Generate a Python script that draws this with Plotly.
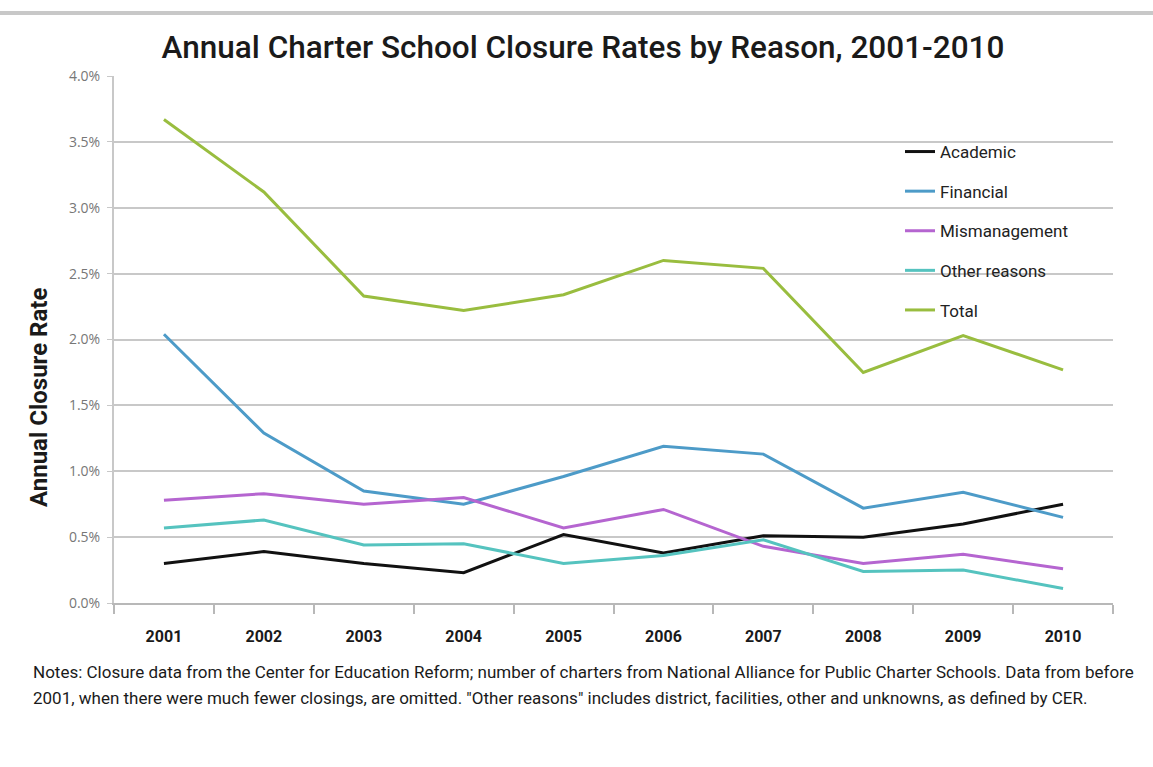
import plotly.graph_objects as go

years = ["2001", "2002", "2003", "2004", "2005", "2006", "2007", "2008", "2009", "2010"]
academic = [0.30, 0.39, 0.30, 0.23, 0.52, 0.38, 0.51, 0.50, 0.60, 0.75]
financial = [2.04, 1.29, 0.85, 0.75, 0.96, 1.19, 1.13, 0.72, 0.84, 0.65]
mismanagement = [0.78, 0.83, 0.75, 0.80, 0.57, 0.71, 0.43, 0.30, 0.37, 0.26]
other_reasons = [0.57, 0.63, 0.44, 0.45, 0.30, 0.36, 0.48, 0.24, 0.25, 0.11]
total = [3.67, 3.12, 2.33, 2.22, 2.34, 2.60, 2.54, 1.75, 2.03, 1.77]

series = [
    ("Academic", academic, "#111111"),
    ("Financial", financial, "#4d9bc8"),
    ("Mismanagement", mismanagement, "#b565d0"),
    ("Other reasons", other_reasons, "#55c3bf"),
    ("Total", total, "#99bd3f"),
]
y_ticks = [0.0, 0.5, 1.0, 1.5, 2.0, 2.5, 3.0, 3.5, 4.0]

FONT = "Roboto, sans-serif"

L, R, T, B = 114, 40, 76, 164
PW, PH = 1153 - L - R, 767 - T - B


def px_x(x):
    return (x - L) / PW


def px_y(y):
    return (767 - B - y) / PH


fig = go.Figure()
for name, vals, color in series:
    fig.add_trace(go.Scatter(
        x=years, y=vals, name=name, mode="lines",
        line=dict(color=color, width=3),
        legendgroup=name,
    ))

fig.update_layout(
    width=1153, height=767,
    margin=dict(l=L, r=R, t=T, b=B),
    paper_bgcolor="white", plot_bgcolor="white",
    showlegend=True,
    legend=dict(
        x=px_x(900), y=px_y(134), xanchor="left", yanchor="top",
        font=dict(family=FONT, size=17, color="#222222"),
        tracegroupgap=14.5, bgcolor="rgba(0,0,0,0)",
    ),
    title=dict(
        text="Annual Charter School Closure Rates by Reason, 2001-2010",
        x=583 / 1153, xanchor="center", y=1 - 47 / 767, yanchor="middle",
        font=dict(family=FONT, size=31.5, color="#1a1a1a", weight=500),
    ),
    xaxis=dict(
        type="category", range=[-0.5, 9.5], showgrid=False, showline=True,
        linecolor="#b8b8b8", linewidth=2,
        ticks="outside", tickson="boundaries", ticklen=9, tickcolor="#b8b8b8", tickwidth=1.5,
        tickfont=dict(family=FONT, size=16, color="#1a1a1a", weight="bold"),
        ticklabelstandoff=18,
    ),
    yaxis=dict(
        range=[0, 4.0], tickvals=y_ticks, ticktext=[f"{v:.1f}%" for v in y_ticks],
        showgrid=True, gridcolor="#c8c8c8", gridwidth=2,
        showline=True, linecolor="#c8c8c8", linewidth=2,
        ticks="outside", ticklen=5, tickcolor="#c8c8c8",
        tickfont=dict(family="Open Sans, sans-serif", size=14, color="#777777"),
        ticklabelstandoff=4,
        zeroline=False,
    ),
)

fig.add_shape(type="line", xref="paper", yref="paper", x0=px_x(0), x1=px_x(1153),
              y0=px_y(13), y1=px_y(13),
              line=dict(color="#c8c8c8", width=4))

fig.add_annotation(
    text="Annual Closure Rate", textangle=-90, xref="paper", yref="paper",
    x=px_x(39), y=px_y(398), xanchor="center", yanchor="middle",
    showarrow=False, font=dict(family=FONT, size=24, color="#1a1a1a", weight="bold"),
)

notes = [
    "Notes: Closure data from the Center for Education Reform; number of charters from National Alliance "
    "for Public Charter Schools. Data from before",
    "2001, when there were much fewer closings, are omitted. \"Other reasons\" includes district, "
    "facilities, other and unknowns, as defined by CER.",
]
for i, line in enumerate(notes):
    fig.add_annotation(
        text=line, xref="paper", yref="paper", x=px_x(31), y=px_y(672 + 26 * i),
        xanchor="left", yanchor="middle", align="left", showarrow=False,
        font=dict(family=FONT, size=17, color="#1a1a1a"),
    )

fig.write_html("out.html")
